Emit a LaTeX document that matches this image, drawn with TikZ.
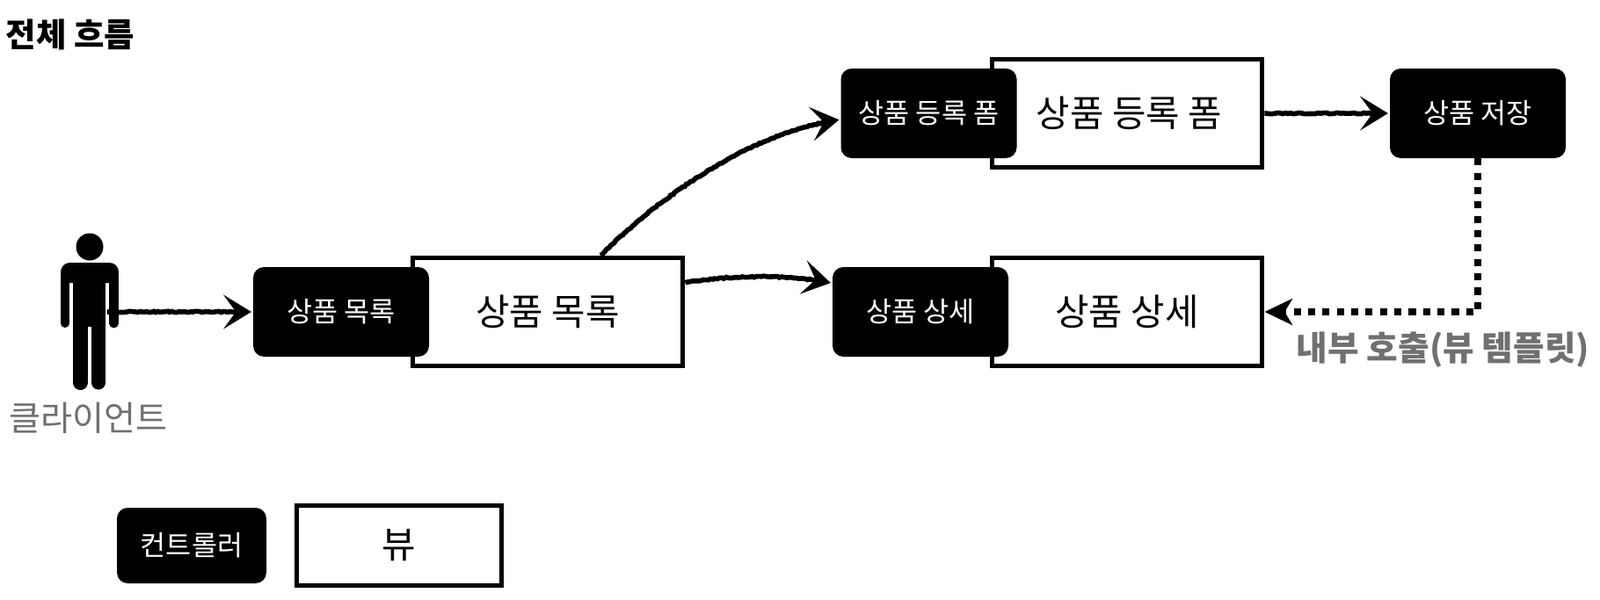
\documentclass[tikz,border=0pt]{standalone}
\usepackage{fontspec}
\setmainfont{Noto Sans CJK KR}
\usetikzlibrary{arrows.meta, decorations.pathmorphing}
\tikzstyle{arrow} = [line width=3.2pt,shorten >=1pt,-{Stealth[length=18pt,width=22pt,inset=8pt]},
    decorate,decoration={random steps,segment length=1.5pt,amplitude=.4pt,post length=4pt}]
\tikzstyle{innercall} = [line width=4.6pt,dash pattern=on 4.6pt off 4.7pt,-{Stealth[length=18pt,width=17pt,inset=5pt]}]

\begin{document}
\begin{tikzpicture}
        [
            ctrl/.style={rectangle,rounded corners=7pt,fill=black,text=white,minimum width=4cm,minimum height=2.04cm,font=\fontsize{18}{20}\selectfont},
            viewbox/.style={rectangle,draw=black,line width=3pt,fill=white,minimum width=6.15cm,minimum height=2.47cm,font=\fontsize{23.8}{28}\selectfont},
            note/.style={text=black!56,font=\fontsize{22}{26}\selectfont},
            limb/.style={line cap=round},
        ]
    \useasboundingbox (0,0) rectangle (36.4,13.64);

    \node[font=\fontsize{21.3}{25}\selectfont\bfseries] (title) at (1.6,12.85){전체 흐름};

    % client
    \fill (2.04,8.02) circle (0.31);
    \fill[rounded corners=6pt] (1.38,7.2) rectangle (2.7,7.66);
    \fill (1.66,7.3) rectangle (2.4,6.2);
    \draw[limb,line width=5.7pt] (1.48,7.35) -- (1.48,6.28);
    \draw[limb,line width=6.2pt] (2.59,7.35) -- (2.59,6.28);
    \draw[limb,line width=9.7pt] (1.83,6.4) -- (1.83,4.93);
    \draw[limb,line width=9.1pt] (2.24,6.4) -- (2.24,4.93);
    \coordinate (client) at (2.44,6.54);
    \node[note,font=\fontsize{22.3}{26}\selectfont] (clientname) at (2.01,4.13){클라이언트};

    % views, then controllers on top of them
    \node[viewbox] (listview) at (12.46,6.54){상품 목록};
    \node[viewbox] (formview) at (25.64,11.06){\hspace{0.1cm}상품 등록 폼};
    \node[viewbox] (detailview) at (25.64,6.54){상품 상세};

    \node[ctrl] (listctrl) at (7.76,6.54){상품 목록};
    \node[ctrl] (formctrl) at (21.13,11.06){상품 등록 폼};
    \node[ctrl] (detailctrl) at (20.94,6.54){상품 상세};
    \node[ctrl] (savectrl) at (33.62,11.06){상품 저장};

    % arrows
    \draw[arrow] (client) -- (listctrl.west);
    \draw[arrow] (listview.47) .. controls (15.2,9.34) and (17.2,10.64) .. (formctrl.184);
    \draw[arrow] (listview.12) .. controls (16.6,7.38) and (18,7.4) .. (detailctrl.162);
    \draw[arrow] (formview.east) -- (savectrl.west);
    \draw[innercall] (savectrl.south) |- (detailview.east);

    \node[note,font=\fontsize{22}{26}\selectfont\bfseries] (callname) at (32.83,5.68){내부 호출(뷰 템플릿)};

    % legend
    \node[viewbox,minimum width=4.66cm,minimum height=1.82cm] (legendview) at (9.08,1.22){뷰};
    \node[ctrl,minimum width=3.4cm,minimum height=1.72cm] (legendctrl) at (4.36,1.22){컨트롤러};
\end{tikzpicture}
\end{document}
